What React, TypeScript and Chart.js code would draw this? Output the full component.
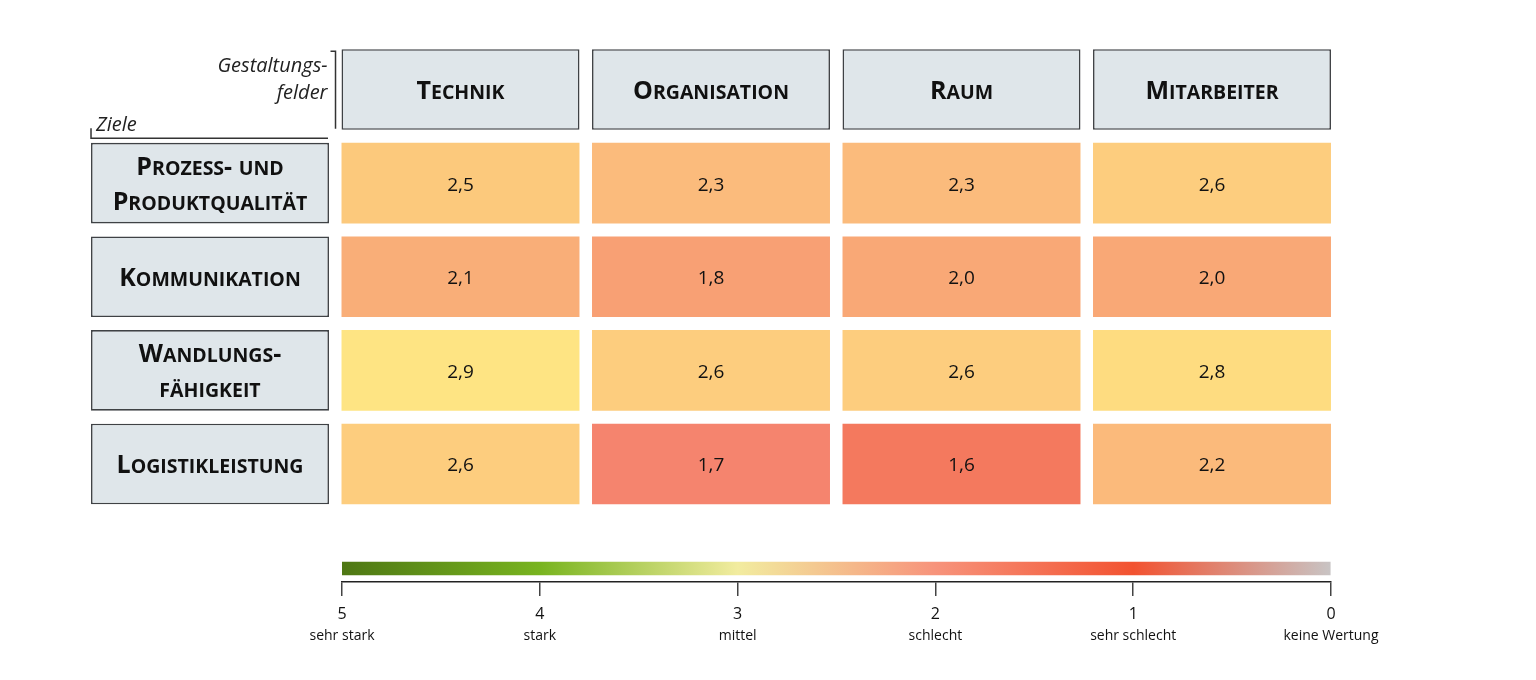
import React, { useEffect, useRef } from "react";
import { Chart, registerables } from "chart.js";

Chart.register(...registerables);

// ---------- data ----------
const columns = ["Technik", "Organisation", "Raum", "Mitarbeiter"];
const rowLabels = [
  ["Prozess- und", "Produktqualität"],
  ["Kommunikation"],
  ["Wandlungs-", "fähigkeit"],
  ["Logistikleistung"],
];
const prozessWerte = [2.5, 2.3, 2.3, 2.6];
const kommunikationWerte = [2.1, 1.8, 2.0, 2.0];
const wandlungWerte = [2.9, 2.6, 2.6, 2.8];
const logistikWerte = [2.6, 1.7, 1.6, 2.2];
const rowValues = [prozessWerte, kommunikationWerte, wandlungWerte, logistikWerte];

const scaleTicks = [5, 4, 3, 2, 1, 0];
const scaleLabels = ["sehr stark", "stark", "mittel", "schlecht", "sehr schlecht", "keine Wertung"];

// ---------- styles ----------
const FAMILY = "'Open Sans', sans-serif";
const HEADER_FILL = "#dfe6ea";
const BOX_BORDER = "#3f4245";
const TEXT = "#111111";
const HALF = 0.43; // half height of a cell in row units

const valueColors: Record<string, string> = {
  "1.6": "#f4795e",
  "1.7": "#f5846e",
  "1.8": "#f8a074",
  "2.0": "#f9a876",
  "2.1": "#f9ae78",
  "2.2": "#fbba7b",
  "2.3": "#fbbb7c",
  "2.5": "#fcc97c",
  "2.6": "#fdcd7e",
  "2.8": "#fedc80",
  "2.9": "#fee483",
};
const cellColor = (v: number) => valueColors[v.toFixed(1)] || "#cccccc";

const gradientStops: [number, string][] = [
  [5, "#4e7714"],
  [4, "#78b41f"],
  [3, "#f2ec9f"],
  [2, "#f7937b"],
  [1, "#f25230"],
  [0, "#c8c4c4"],
];

function drawSmallCaps(
  ctx: CanvasRenderingContext2D,
  text: string,
  cx: number,
  cy: number,
  big: number,
  small: number
) {
  const runs: { c: string; size: number; w: number }[] = [];
  for (const ch of text) {
    const lower = ch !== ch.toUpperCase();
    runs.push({ c: ch.toUpperCase(), size: lower ? small : big, w: 0 });
  }
  let total = 0;
  for (const r of runs) {
    ctx.font = `bold ${r.size}px ${FAMILY}`;
    r.w = ctx.measureText(r.c).width;
    total += r.w;
  }
  const baseline = cy + (0.714 * big) / 2;
  let x = cx - total / 2;
  ctx.textAlign = "left";
  ctx.textBaseline = "alphabetic";
  ctx.fillStyle = TEXT;
  for (const r of runs) {
    ctx.font = `bold ${r.size}px ${FAMILY}`;
    ctx.fillText(r.c, x, baseline);
    x += r.w;
  }
}

const textPlugin = {
  id: "heatText",
  afterDatasetsDraw(chart: any) {
    const { ctx, scales } = chart;
    const xs = scales.x;
    const ys = scales.y;
    const catW = xs.width / (columns.length + 1);
    const barW = catW * 0.95;
    ctx.save();
    // column headers
    columns.forEach((c, j) => {
      drawSmallCaps(ctx, c, xs.getPixelForValue(j + 1), ys.getPixelForValue(0) + 1, 25, 19.5);
    });
    // row labels
    rowLabels.forEach((lines, i) => {
      const cx = xs.getPixelForValue(0);
      const cy = ys.getPixelForValue(i + 1);
      const gap = 35;
      lines.forEach((ln, k) => {
        const off = (k - (lines.length - 1) / 2) * gap;
        drawSmallCaps(ctx, ln, cx, cy + off, 25, 19.5);
      });
    });
    // values
    ctx.font = `19px ${FAMILY}`;
    ctx.textAlign = "center";
    ctx.textBaseline = "alphabetic";
    ctx.fillStyle = TEXT;
    rowValues.forEach((vals, i) => {
      vals.forEach((v, j) => {
        const cx = xs.getPixelForValue(j + 1);
        const cy = ys.getPixelForValue(i + 1);
        ctx.fillText(v.toFixed(1).replace(".", ","), cx, cy + 7.5);
      });
    });
    // corner brackets
    const col1Left = xs.getPixelForValue(1) - barW / 2;
    const col0Left = xs.getPixelForValue(0) - barW / 2;
    const col0Right = xs.getPixelForValue(0) + barW / 2;
    const headTop = ys.getPixelForValue(-HALF);
    const headBottom = ys.getPixelForValue(HALF);
    const row1Top = ys.getPixelForValue(1 - HALF);
    ctx.strokeStyle = "#333333";
    ctx.lineWidth = 1.5;
    const vx = col1Left - 6;
    ctx.beginPath();
    ctx.moveTo(vx - 5, headTop + 2);
    ctx.lineTo(vx, headTop + 2);
    ctx.lineTo(vx, headBottom - 1);
    ctx.stroke();
    const hy = row1Top - 4.5;
    ctx.beginPath();
    ctx.moveTo(col0Left, hy - 10);
    ctx.lineTo(col0Left, hy);
    ctx.lineTo(col0Right - 1, hy);
    ctx.stroke();
    ctx.font = `italic 20px ${FAMILY}`;
    ctx.fillStyle = "#222222";
    ctx.textAlign = "right";
    ctx.fillText("Gestaltungs-", col1Left - 14, headTop + 23);
    ctx.fillText("felder", col1Left - 14, headTop + 50);
    ctx.textAlign = "left";
    ctx.fillText("Ziele", col0Left + 5, row1Top - 12);
    ctx.restore();
  },
};

export default function App() {
  const mainRef = useRef<HTMLCanvasElement | null>(null);
  const barRef = useRef<HTMLCanvasElement | null>(null);

  useEffect(() => {
    if (!mainRef.current || !barRef.current) return;

    const common = {
      grouped: false,
      barPercentage: 0.95,
      categoryPercentage: 1,
      borderSkipped: false as const,
    };

    const datasets: any[] = [
      {
        label: "Gestaltungsfelder",
        data: [null, ...columns.map(() => [-HALF, HALF])],
        backgroundColor: HEADER_FILL,
        borderColor: BOX_BORDER,
        borderWidth: 1.6,
        ...common,
      },
      ...rowValues.map((vals, i) => {
        const r = i + 1;
        return {
          label: rowLabels[i].join(" "),
          data: [[r - HALF, r + HALF], ...vals.map(() => [r - HALF, r + HALF])],
          backgroundColor: [HEADER_FILL, ...vals.map(cellColor)],
          borderColor: [BOX_BORDER, ...vals.map(() => "rgba(0,0,0,0)")],
          borderWidth: [1.6, ...vals.map(() => 0)],
          ...common,
        };
      }),
    ];

    const main = new Chart(mainRef.current, {
      type: "bar",
      data: { labels: ["", ...columns], datasets },
      options: {
        animation: false,
        responsive: false,
        layout: { padding: { left: 84.75, right: 198.75, top: 42.7, bottom: 19.2 } },
        plugins: { legend: { display: false }, tooltip: { enabled: false } },
        scales: {
          x: { type: "category", display: false, offset: true },
          y: { type: "linear", min: -0.5, max: 4.5, reverse: true, display: false },
        },
      },
      plugins: [textPlugin],
    } as any);

    const bar = new Chart(barRef.current, {
      type: "bar",
      data: {
        datasets: [
          {
            label: "Skala",
            data: [{ x: [scaleTicks[scaleTicks.length - 1], scaleTicks[0]], y: 0.5 }],
            barThickness: 13,
            borderWidth: 0,
            backgroundColor: (c: any) => {
              const chart = c.chart;
              if (!chart.chartArea) return "transparent";
              const xs = chart.scales.x;
              const x0 = xs.getPixelForValue(5);
              const x1 = xs.getPixelForValue(0);
              const g = chart.ctx.createLinearGradient(x0, 0, x1, 0);
              gradientStops.forEach(([v, col]) => g.addColorStop((5 - v) / 5, col));
              return g;
            },
          },
        ],
      },
      options: {
        indexAxis: "y",
        animation: false,
        responsive: false,
        layout: { padding: { left: 342, right: 205, top: 15, bottom: 8 } },
        plugins: { legend: { display: false }, tooltip: { enabled: false } },
        scales: {
          y: { type: "linear", min: 0, max: 1, display: false },
          x: {
            type: "linear",
            min: 0,
            max: 5,
            reverse: true,
            position: "bottom",
            weight: 0,
            afterFit: (s: any) => {
              s.height = 40;
            },
            border: { display: true, color: "#222222", width: 1.5 },
            grid: { drawOnChartArea: false, drawTicks: true, tickLength: 14, tickColor: "#444444", lineWidth: 1.5 },
            ticks: {
              stepSize: 1,
              padding: 9,
              color: TEXT,
              font: { size: 16, family: FAMILY },
              callback: (v: any) => String(v),
            },
          },
          x2: {
            type: "linear",
            axis: "x",
            min: 0,
            max: 5,
            reverse: true,
            position: "bottom",
            weight: 1,
            afterFit: (s: any) => {
              s.height = 30;
            },
            border: { display: false },
            grid: { display: false },
            ticks: {
              stepSize: 1,
              padding: -2.4,
              color: TEXT,
              font: { size: 14, family: FAMILY },
              callback: (v: any) => {
                const k = scaleTicks.indexOf(Number(v));
                return k >= 0 ? scaleLabels[k] : "";
              },
            },
          },
        },
      },
    } as any);

    return () => {
      main.destroy();
      bar.destroy();
    };
  }, []);

  return (
    <div style={{ position: "absolute", left: 0, top: 0, width: 1536, height: 680, background: "#ffffff" }}>
      <canvas
        ref={mainRef}
        width={1536}
        height={530}
        style={{ position: "absolute", left: 0, top: 0, width: 1536, height: 530, display: "block" }}
      />
      <canvas
        ref={barRef}
        width={1536}
        height={120}
        style={{ position: "absolute", left: 0, top: 540, width: 1536, height: 120, display: "block" }}
      />
    </div>
  );
}
